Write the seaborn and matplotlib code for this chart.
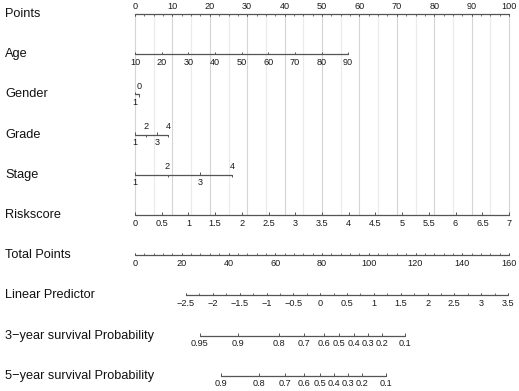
import matplotlib
matplotlib.use("Agg")
import matplotlib.pyplot as plt
import numpy as np
import pandas as pd
import seaborn as sns

# ---- data ----
row_names = [
    "Points", "Age", "Gender", "Grade", "Stage", "Riskscore",
    "Total Points", "Linear Predictor",
    "3\u2212year survival Probability", "5\u2212year survival Probability",
]

points_values = [0, 10, 20, 30, 40, 50, 60, 70, 80, 90, 100]

age_values = [10, 20, 30, 40, 50, 60, 70, 80, 90]
age_points = [0, 7.1, 14.3, 21.4, 28.5, 35.6, 42.8, 49.9, 57.0]

gender_levels = ["1", "0"]
gender_points = [0, 1.2]

grade_levels = ["1", "2", "3", "4"]
grade_points = [0, 3.0, 6.0, 8.9]

stage_levels = ["1", "2", "3", "4"]
stage_points = [0, 8.7, 17.4, 26.0]

risk_values = [0, 0.5, 1, 1.5, 2, 2.5, 3, 3.5, 4, 4.5, 5, 5.5, 6, 6.5, 7]
risk_points = [0, 7.1, 14.3, 21.4, 28.6, 35.7, 42.9, 50.0, 57.1, 64.3,
               71.4, 78.6, 85.7, 92.9, 100.0]

total_values = [0, 20, 40, 60, 80, 100, 120, 140, 160]

lp_values = [-2.5, -2, -1.5, -1, -0.5, 0, 0.5, 1, 1.5, 2, 2.5, 3, 3.5]
lp_total = [21.8, 33.3, 44.8, 56.3, 67.7, 79.2, 90.7, 102.2, 113.7,
            125.2, 136.6, 148.1, 159.6]

surv3_labels = ["0.95", "0.9", "0.8", "0.7", "0.6", "0.5", "0.4", "0.3", "0.2", "0.1"]
surv3_total = [27.8, 44.2, 61.6, 72.5, 81.0, 87.4, 93.5, 99.6, 105.8, 115.3]

surv5_labels = ["0.9", "0.8", "0.7", "0.6", "0.5", "0.4", "0.3", "0.2", "0.1"]
surv5_total = [36.6, 53.0, 64.0, 72.3, 79.0, 85.2, 91.2, 97.3, 107.4]

MAX_TOTAL = 160


def fmt(v):
    s = f"{v:g}"
    return s.replace("-", "\u2212")


def tp_to_x(values):
    return [v * 100 / MAX_TOTAL for v in values]


sns.set_theme(style="white")
plt.rcParams["font.family"] = ["Liberation Sans", "DejaVu Sans"]

fig = plt.figure(figsize=(5.19, 3.91), dpi=100)
ax = fig.add_axes([0, 0, 1, 1])
ax.axis("off")

px_per_pt = 3.74
x_min = -135 / px_per_pt
x_max = x_min + 519 / px_per_pt
row_gap = 40.2
ax.set_xlim(x_min, x_max)
ax.set_ylim((391 - 14) / row_gap, -14 / row_gap)

# rows: (tick positions, labels, label placement)
rows = [
    (points_values, [fmt(v) for v in points_values], "above"),
    (age_points, [fmt(v) for v in age_values], "below"),
    (gender_points, gender_levels, "alt"),
    (grade_points, grade_levels, "alt"),
    (stage_points, stage_levels, "alt"),
    (risk_points, [fmt(v) for v in risk_values], "below"),
    (tp_to_x(total_values), [fmt(v) for v in total_values], "below"),
    (tp_to_x(lp_total), [fmt(v) for v in lp_values], "below"),
    (tp_to_x(surv3_total), surv3_labels, "below"),
    (tp_to_x(surv5_total), surv5_labels, "below"),
]

# vertical reference grid over the predictor rows
for g in np.arange(0, 101, 5):
    major = g % 10 == 0
    ax.plot([g, g], [0, 5], color="#d4d4d4" if major else "#ebebeb",
            lw=0.8, zorder=0)

# axis lines
seg = pd.DataFrame(
    [{"row": i, "x": min(pos), "y": i} for i, (pos, _, _) in enumerate(rows)]
    + [{"row": i, "x": max(pos), "y": i} for i, (pos, _, _) in enumerate(rows)]
)
sns.lineplot(data=seg, x="x", y="y", units="row", estimator=None,
             color="#555555", lw=0.9, ax=ax, zorder=2)

tick_len = 2.5 / row_gap
line_col = "#555555"
text_col = "#1a1a1a"

# minor ticks
minor_sets = [
    (0, np.arange(0, 100.01, 2.5)),
    (6, tp_to_x(np.arange(0, 160.01, 4))),
    (7, tp_to_x(np.interp(np.arange(-2.5, 3.51, 0.25), lp_values, lp_total))),
]
for r, xs in minor_sets:
    sgn = 1 if r == 0 else -1
    ax.vlines(xs, r, r + sgn * tick_len * 0.8, color=line_col, lw=0.6)

for i, (pos, labels, place) in enumerate(rows):
    for k, (x, lab) in enumerate(zip(pos, labels)):
        if place == "above":
            up = True
        elif place == "below":
            up = False
        else:
            up = k % 2 == 1
        # ticks point away from the label
        ax.vlines(x, i, i + (tick_len if up else -tick_len), color=line_col, lw=0.7)
        off = 7.8 if up else -8.0
        ax.annotate(lab, (x, i), xytext=(0, off * 0.72), textcoords="offset points",
                    ha="center", va="center", fontsize=6.6, color=text_col)
    ax.text(x_min + 5 / px_per_pt, i, row_names[i], ha="left", va="center",
            fontsize=9.2, color="#111111")

fig.savefig("out.png", dpi=100)
plt.close(fig)
